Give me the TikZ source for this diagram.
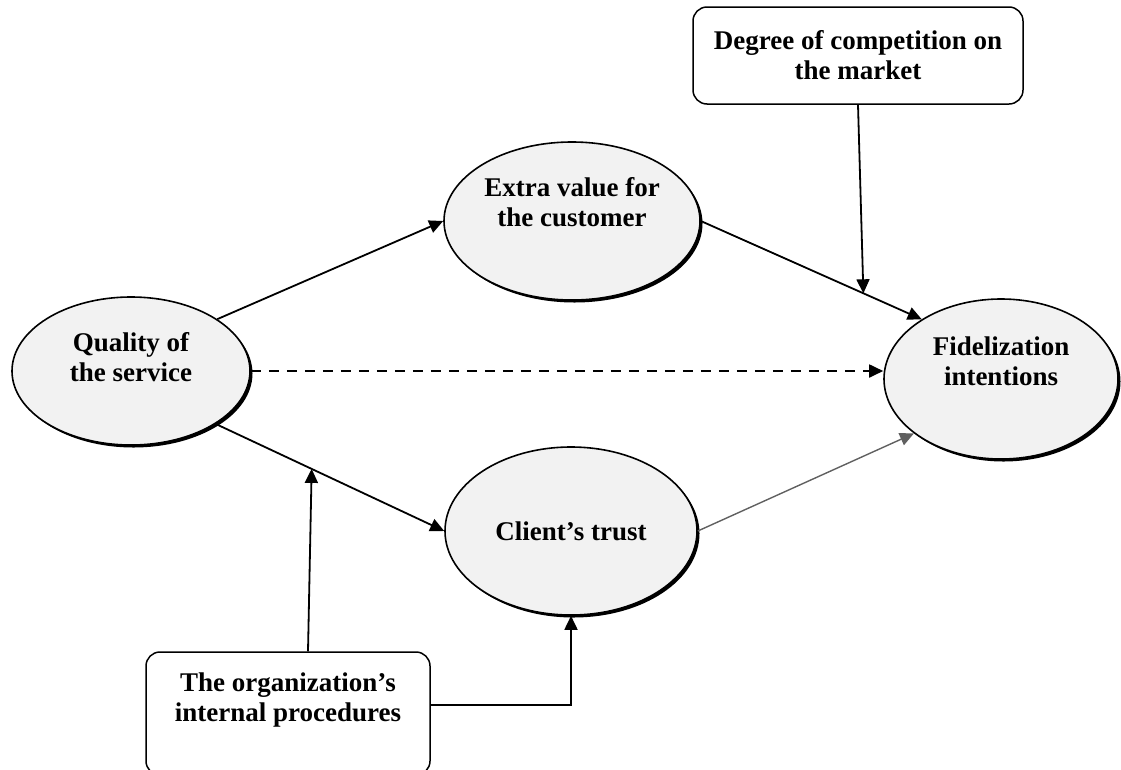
\documentclass[tikz,border=0pt]{standalone}
\usepackage{fontspec}
\setmainfont{Liberation Serif}
\usepackage{tikz}
\usetikzlibrary{arrows.meta,positioning,shapes.geometric,shadows}
\definecolor{ovalgray}{RGB}{242,242,242}
\definecolor{linkgray}{RGB}{96,96,96}

\begin{document}
\begin{tikzpicture}[
  x=1pt, y=-1pt,
  oval/.style={ellipse, draw, line width=1.6pt, fill=ovalgray, inner sep=0pt,
    drop shadow={shadow xshift=2.5pt, shadow yshift=-2.5pt, fill=black, opacity=1}},
  box/.style={draw, line width=1.5pt, rounded corners=14pt, fill=white,
    align=center, inner sep=0pt, font=\fontsize{27}{30}\selectfont\bfseries},
  lbl/.style={align=center, font=\fontsize{27}{30}\selectfont\bfseries},
  arr/.style={-{Triangle[length=14pt, width=13pt]}, line width=1.8pt}
]
  \clip (0,0) rectangle (1121,769);

  \node[oval, minimum width=238pt, minimum height=148pt] (qual) at (131,371) {};
  \node[oval, minimum width=256pt, minimum height=158pt] (ext) at (572,221) {};
  \node[oval, minimum width=252pt, minimum height=168pt] (cli) at (571,531) {};
  \node[oval, minimum width=234pt, minimum height=160pt] (fid) at (1001,379) {};

  \node[lbl] (qual-t) at ([yshift=14pt]qual.center) {Quality of\\the service};
  \node[lbl] (ext-t) at ([yshift=19pt]ext.center) {Extra value for\\the customer};
  \node[lbl] (cli-t) at (cli.center) {Client's trust};
  \node[lbl] (fid-t) at ([yshift=18pt]fid.center) {Fidelization\\intentions};

  \node[box, minimum width=330pt, minimum height=97pt] (deg) at (858,55.5)
    {Degree of competition on\\the market};
  \node[box, minimum width=284pt, minimum height=123pt] (org) at (288,713.5) {};
  \node[lbl] (org-t) at ([yshift=13.5pt]org.center) {The organization's\\internal procedures};

  \draw[arr] (qual.31) -- (ext.west);
  \draw[arr] (ext.east) -- coordinate[pos=0.736] (m1) (fid.143);
  \draw[arr] (deg.south) -- (m1);
  \draw[arr, dash pattern=on 10pt off 8pt] (qual.east) -- (qual.east -| fid.west);
  \draw[arr] (qual.-32) -- coordinate[pos=0.42] (m2) (cli.west);
  \draw[arr] ([xshift=20pt]org.north) -- (m2);
  \draw[arr] ([yshift=8.5pt]org.east) -| (cli.south);
  \draw[arr, linkgray, line width=1.4pt] (cli.east) -- (fid.212);
\end{tikzpicture}
\end{document}
